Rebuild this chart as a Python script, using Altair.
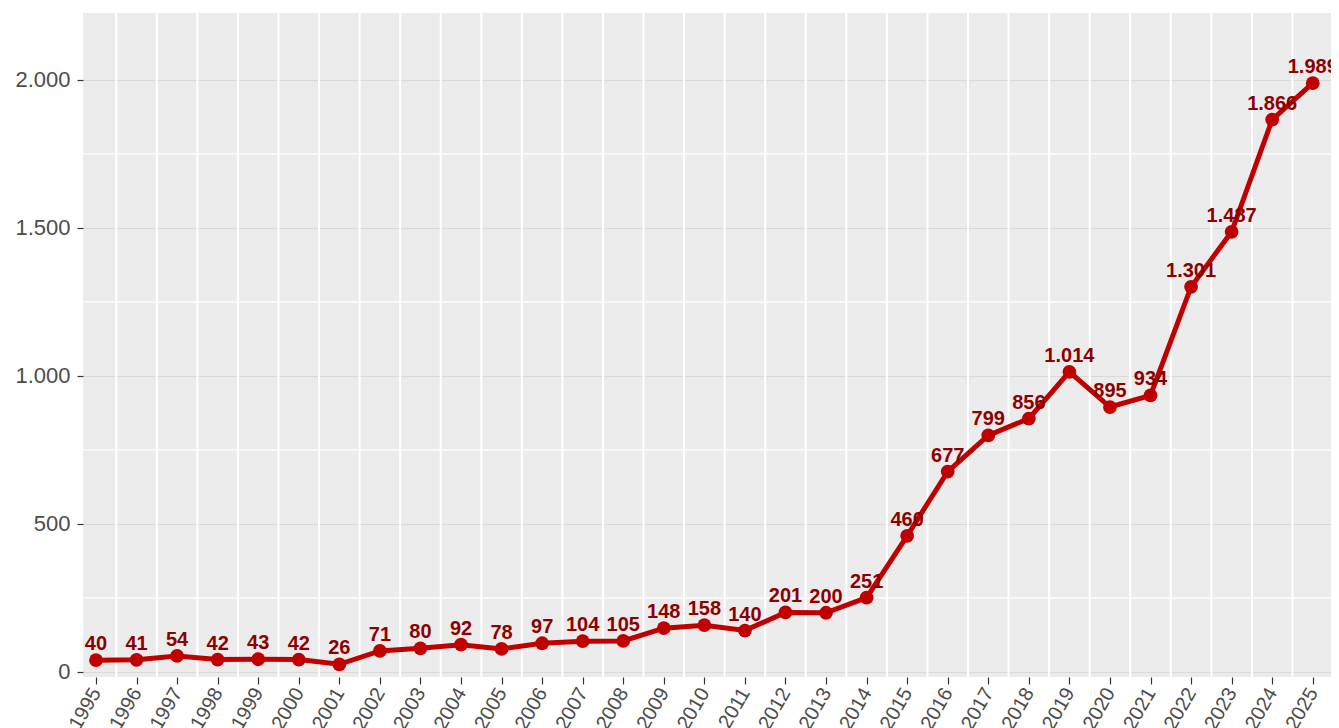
import altair as alt
import pandas as pd

years = list(range(1995, 2026))
values = [40, 41, 54, 42, 43, 42, 26, 71, 80, 92, 78, 97, 104, 105, 148, 158,
          140, 201, 200, 251, 460, 677, 799, 856, 1014, 895, 934, 1301, 1487,
          1866, 1989]
y_major = [0, 500, 1000, 1500, 2000]
y_minor = [250, 750, 1250, 1750]

df = pd.DataFrame({"year": years, "value": values})
df_minor = pd.DataFrame({"v": y_minor})

FONT = "Liberation Sans"
xscale = alt.Scale(domain=[1994.68, 2025.45], nice=False, zero=False)
yscale = alt.Scale(domain=[-17, 2226], nice=False, zero=False)

base = alt.Chart(df)

hminor = alt.Chart(df_minor).mark_rule(color="white", strokeWidth=1.3).encode(
    y=alt.Y("v:Q", scale=yscale)
)

vgrid = base.transform_calculate(half="datum.year + 0.5").mark_rule(
    color="white", strokeWidth=2, clip=True
).encode(x=alt.X("half:Q", scale=xscale))

line = base.mark_line(color="#C00000", strokeWidth=5).encode(
    x=alt.X(
        "year:Q",
        scale=xscale,
        axis=alt.Axis(
            values=years,
            format="d",
            labelAngle=-60,
            labelAlign="right",
            labelBaseline="middle",
            labelFont=FONT,
            labelFontSize=20,
            labelColor="#4D4D4D",
            labelPadding=5,
            tickColor="#333333",
            tickSize=7,
            tickWidth=1.2,
            domain=False,
            grid=False,
            title=None,
            labelOverlap=False,
        ),
    ),
    y=alt.Y(
        "value:Q",
        scale=yscale,
        axis=alt.Axis(
            values=y_major,
            labelExpr="replace(format(datum.value, ','), ',', '.')",
            labelFont=FONT,
            labelFontSize=22,
            labelColor="#4D4D4D",
            labelPadding=7,
            tickColor="#333333",
            tickSize=6,
            tickWidth=1.2,
            domain=False,
            grid=True,
            gridColor="#D9D9D9",
            gridWidth=1.2,
            title=None,
        ),
    ),
)

points = base.mark_point(filled=True, color="#C00000", size=190, opacity=1).encode(
    x=alt.X("year:Q", scale=xscale),
    y=alt.Y("value:Q", scale=yscale),
)

labels = base.transform_calculate(
    lab="replace(format(datum.value, ','), ',', '.')"
).mark_text(
    font=FONT, fontSize=20, fontWeight="bold", color="#8B0000",
    baseline="middle", dy=-16
).encode(
    x=alt.X("year:Q", scale=xscale),
    y=alt.Y("value:Q", scale=yscale),
    text="lab:N",
)

chart = alt.layer(hminor, vgrid, line, points, labels).properties(
    width=1248,
    height=664,
    autosize=alt.AutoSizeParams(type="none"),
    padding={"left": 75, "top": 5, "right": 0, "bottom": 52},
    background="white",
).configure_view(fill="#EBEBEB", stroke=None)

chart.save("out.html", embed_options={"renderer": "svg", "actions": False})
